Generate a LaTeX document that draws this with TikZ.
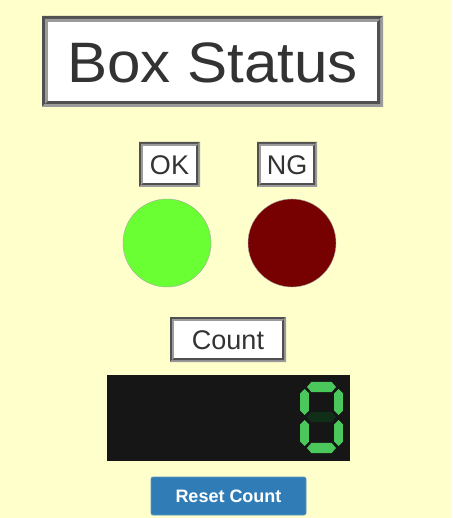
\documentclass[tikz,border=0pt]{standalone}
\usepackage{fontspec}
\setmainfont{Liberation Sans}
\usetikzlibrary{calc}
\definecolor{bgyel}{RGB}{255,255,204}
\definecolor{txt}{RGB}{51,51,51}
\definecolor{bdark}{RGB}{80,80,80}
\definecolor{blight}{RGB}{155,155,155}
\definecolor{okgreen}{RGB}{106,255,51}
\definecolor{ngred}{RGB}{119,0,0}
\definecolor{dispbg}{RGB}{22,22,22}
\definecolor{segon}{RGB}{74,200,92}
\definecolor{segoff}{RGB}{16,46,24}
\definecolor{btnblue}{RGB}{48,124,182}
\newcommand{\ringpart}[7]{% a b c d w colTL colBR
  \fill[#6] (#1,#4) -- (#1,#2) -- (#3,#2) -- ({#3-#5},{#2+#5}) -- ({#1+#5},{#2+#5}) -- ({#1+#5},{#4-#5}) -- cycle;
  \fill[#7] (#1,#4) -- (#3,#4) -- (#3,#2) -- ({#3-#5},{#2+#5}) -- ({#3-#5},{#4-#5}) -- ({#1+#5},{#4-#5}) -- cycle;
}
\newcommand{\grooveframe}[5]{%
  \ringpart{#1}{#2}{#3}{#4}{#5}{bdark}{blight}
  \ringpart{#1+#5}{#2+#5}{#3-#5}{#4-#5}{#5}{blight}{bdark}
  \fill[white] ({#1+2*#5},{#2+2*#5}) rectangle ({#3-2*#5},{#4-2*#5});
}
\newcommand{\hseg}[3]{% cx cy color
  \fill[#3] ({#1-14.5},#2) -- ({#1-10},{#2-5.2}) -- ({#1+10},{#2-5.2}) -- ({#1+14.5},#2) -- ({#1+10},{#2+5.2}) -- ({#1-10},{#2+5.2}) -- cycle;
}
\newcommand{\vseg}[3]{% cx cy color
  \fill[#3] (#1,{#2-13}) -- ({#1+4.4},{#2-8.6}) -- ({#1+4.4},{#2+8.6}) -- (#1,{#2+13}) -- ({#1-4.4},{#2+8.6}) -- ({#1-4.4},{#2-8.6}) -- cycle;
}
\begin{document}
\begin{tikzpicture}[x=1pt,y=-1pt,
  lbl/.style={text=txt,inner sep=0pt,anchor=center},
  lamp/.style={circle,minimum size=88pt,inner sep=0pt,draw=black!35,line width=0.4pt}]
\fill[bgyel] (0,0) rectangle (452,518);
\useasboundingbox (0,0) rectangle (452,518);
% title
\grooveframe{42}{16}{383}{107}{3}
\node[lbl,font=\fontsize{57}{60}\selectfont] (title) at (212.5,63) {\scalebox{1.055}[1]{Box Status}};
% OK / NG labels
\grooveframe{139}{142}{200}{187}{2}
\node[lbl,font=\fontsize{27}{29}\selectfont] (oklbl) at (169.5,165) {OK};
\grooveframe{257}{142}{317}{187}{2}
\node[lbl,font=\fontsize{27}{29}\selectfont] (nglbl) at (287,165) {NG};
% lamps
\node[lamp,fill=okgreen] (oklamp) at (167,243) {};
\node[lamp,fill=ngred] (nglamp) at (292,243) {};
% count label
\grooveframe{170}{317}{286}{362}{2}
\node[lbl,font=\fontsize{27}{29}\selectfont] (countlbl) at (228,340) {Count};
% display
\fill[dispbg] (107,375) rectangle (350,461);
\hseg{321.5}{387}{segon}
\vseg{304.5}{402}{segon}
\vseg{338.5}{402}{segon}
\hseg{321.5}{417}{segoff}
\vseg{304.5}{433}{segon}
\vseg{338.5}{433}{segon}
\hseg{321.5}{448}{segon}
% button
\node[fill=btnblue,draw=btnblue!80!white,line width=0.6pt,rounded corners=2pt,minimum width=155pt,minimum height=38pt,inner sep=0pt,text=white,font=\bfseries\fontsize{18}{20}\selectfont] (reset) at (228.5,496) {Reset Count};
\end{tikzpicture}
\end{document}
